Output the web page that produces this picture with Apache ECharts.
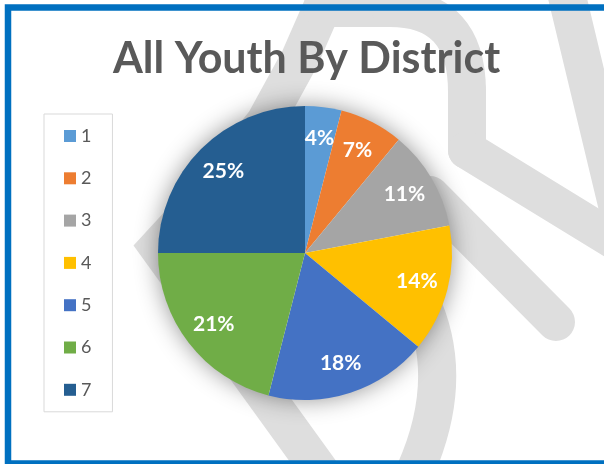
<!DOCTYPE html>
<html>
<head>
<meta charset="utf-8">
<script src="https://cdn.jsdelivr.net/npm/echarts@6/dist/echarts.min.js"></script>
<style>
  html, body { margin: 0; padding: 0; background: #ffffff; }
  #chart { width: 604px; height: 464px; }
</style>
</head>
<body>
<div id="chart"></div>
<script>
// District categories and their share of all youth (percent)
const districts = ['1', '2', '3', '4', '5', '6', '7'];
const shares = [4, 7, 11, 14, 18, 21, 25];
const sliceColors = ['#5b9bd5', '#ed7d31', '#a5a5a5', '#ffc000', '#4472c4', '#70ad47', '#255e91'];

const pieData = districts.map((name, i) => ({ name: name, value: shares[i] }));

const FONT = 'Lato, "Open Sans", sans-serif';
const PIE_CENTER = [305, 253];
const PIE_RADIUS = 147;

// Light grey ribbon shapes in the page background
const ribbon = { stroke: '#dedede', lineWidth: 38, fill: null, lineCap: 'round', lineJoin: 'round' };
const backdropStrokes = [
  { type: 'polyline', z: 0, shape: { points: [[332, -15], [300, 58], [265, 122], [215, 185], [158, 247], [325, 478]] },
    style: Object.assign({}, ribbon, { lineJoin: 'miter', lineCap: 'butt' }) },
  { type: 'line', z: 0, shape: { x1: 322, y1: 8, x2: 392, y2: 8 }, style: ribbon },
  { type: 'bezierCurve', z: 0, shape: { x1: 390, y1: 8, cpx1: 467, cpy1: 8, x2: 467, y2: 92 }, style: ribbon },
  { type: 'line', z: 0, shape: { x1: 467, y1: 90, x2: 467, y2: 150 }, style: ribbon },
  { type: 'line', z: 0, shape: { x1: 467, y1: 150, x2: 630, y2: 250 }, style: ribbon },
  { type: 'line', z: 0, shape: { x1: 430, y1: 195, x2: 556, y2: 322 }, style: ribbon },
  { type: 'bezierCurve', z: 0, shape: { x1: 420, y1: 300, cpx1: 458, cpy1: 380, x2: 412, y2: 478 }, style: ribbon },
  { type: 'line', z: 0, shape: { x1: 565, y1: -12, x2: 626, y2: 242 }, style: ribbon }
];

// Blue frame, open past the right edge of the page
const frame = {
  type: 'rect', z: 1,
  shape: { x: 8, y: 7.5, width: 700, height: 456 },
  style: { fill: null, stroke: '#0070c0', lineWidth: 6.5 }
};

const chart = echarts.init(document.getElementById('chart'), null, { renderer: 'canvas' });

chart.setOption({
  animation: false,
  backgroundColor: '#ffffff',
  color: sliceColors,
  graphic: { elements: backdropStrokes.concat([frame]) },
  title: {
    text: 'All Youth By District',
    left: 108,
    top: 33,
    padding: 5,
    textStyle: { fontFamily: FONT, fontSize: 43, fontWeight: 'bold', color: '#595959' }
  },
  legend: {
    data: districts,
    orient: 'vertical',
    left: 44,
    top: 114,
    padding: [13, 21, 13, 20],
    itemWidth: 12,
    itemHeight: 12,
    itemGap: 24.3,
    icon: 'rect',
    borderColor: '#d9d9d9',
    borderWidth: 1,
    textStyle: { fontFamily: FONT, fontSize: 18, lineHeight: 18, color: '#595959' }
  },
  series: [
    {
      // soft shadow under the whole pie
      name: 'backing',
      type: 'pie',
      silent: true,
      z: 1,
      center: PIE_CENTER,
      radius: PIE_RADIUS - 1,
      label: { show: false },
      labelLine: { show: false },
      itemStyle: { color: '#ffffff', shadowBlur: 24, shadowColor: 'rgba(0,0,0,0.45)' },
      data: [{ name: 'backing', value: 1 }]
    },
    {
      name: 'All Youth',
      type: 'pie',
      z: 2,
      center: PIE_CENTER,
      radius: PIE_RADIUS,
      startAngle: 90,
      clockwise: true,
      label: { show: false },
      labelLine: { show: false },
      itemStyle: { borderWidth: 0 },
      data: pieData
    },
    {
      // percentage labels placed along each slice's middle angle
      name: 'All Youth labels',
      type: 'pie',
      z: 3,
      silent: true,
      center: PIE_CENTER,
      radius: [78, PIE_RADIUS],
      startAngle: 90,
      clockwise: true,
      itemStyle: { color: 'rgba(0,0,0,0)' },
      labelLine: { show: false },
      label: {
        show: true,
        position: 'inside',
        formatter: '{c}%',
        fontFamily: FONT,
        fontSize: 21,
        fontWeight: 'bold',
        color: '#ffffff'
      },
      data: pieData
    }
  ]
});
</script>
</body>
</html>
